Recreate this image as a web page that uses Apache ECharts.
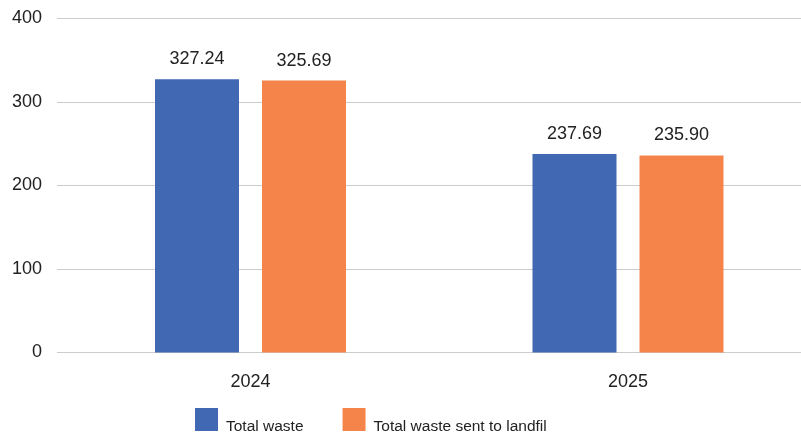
<!DOCTYPE html>
<html>
<head>
<meta charset="utf-8">
<script src="https://cdn.jsdelivr.net/npm/echarts@6/dist/echarts.min.js"></script>
<style>
html,body{margin:0;padding:0;background:#fff;}
#chart{width:801px;height:436px;}
</style>
</head>
<body>
<div id="chart"></div>
<script>
var categories = ['2024', '2025'];
var totalWaste = [327.24, 237.69];
var landfillWaste = [325.69, 235.90];
var seriesNames = ['Total waste', 'Total waste sent to landfil'];
var yTicks = [0, 100, 200, 300, 400];

var FONT = '"Liberation Sans", Arial, Helvetica, sans-serif';
var chart = echarts.init(document.getElementById('chart'), null, {renderer: 'canvas'});
var labelCfg = {
  show: true, position: 'top', distance: 11,
  color: '#222', fontSize: 18, fontFamily: FONT,
  formatter: function (p) { return p.value.toFixed(2); }
};
var yMin = yTicks[0], yMax = yTicks[yTicks.length - 1];
chart.setOption({
  animation: false,
  backgroundColor: '#fff',
  grid: [
    {left: 57, right: 0, top: 18.5, height: 334, containLabel: false, outerBoundsMode: 'none'},
    {left: 61.75, width: 755, top: 18.5, height: 334, containLabel: false, outerBoundsMode: 'none'}
  ],
  legend: {
    left: 195, top: 408, padding: 0,
    itemWidth: 23, itemHeight: 23, itemGap: 39,
    icon: 'rect',
    formatter: '{t|{name}}',
    textStyle: {
      color: '#222', fontSize: 15.5, fontFamily: FONT,
      rich: {t: {color: '#222', fontSize: 15.5, fontFamily: FONT, padding: [14, 0, 0, 3]}}
    },
    data: seriesNames
  },
  xAxis: [
    {type: 'category', gridIndex: 0, data: categories, show: false},
    {
      type: 'category', gridIndex: 1, data: categories,
      axisTick: {show: false},
      axisLine: {show: false},
      axisLabel: {color: '#222', fontSize: 18, fontFamily: FONT, margin: 21}
    }
  ],
  yAxis: [
    {
      type: 'value', gridIndex: 0, min: yMin, max: yMax, interval: 100,
      axisLine: {show: false}, axisTick: {show: false},
      axisLabel: {color: '#222', fontSize: 18, fontFamily: FONT, margin: 15},
      splitLine: {lineStyle: {color: '#cccccc', width: 1}}
    },
    {
      type: 'value', gridIndex: 1, min: yMin, max: yMax, interval: 100,
      show: false, splitLine: {show: false}
    }
  ],
  series: [
    {name: seriesNames[0], type: 'bar', xAxisIndex: 1, yAxisIndex: 1, data: totalWaste,
     barWidth: 84, barGap: '27.4%', itemStyle: {color: '#4169b3'}, label: labelCfg},
    {name: seriesNames[1], type: 'bar', xAxisIndex: 1, yAxisIndex: 1, data: landfillWaste,
     barWidth: 84, itemStyle: {color: '#f5844a'}, label: labelCfg}
  ]
});
</script>
</body>
</html>
